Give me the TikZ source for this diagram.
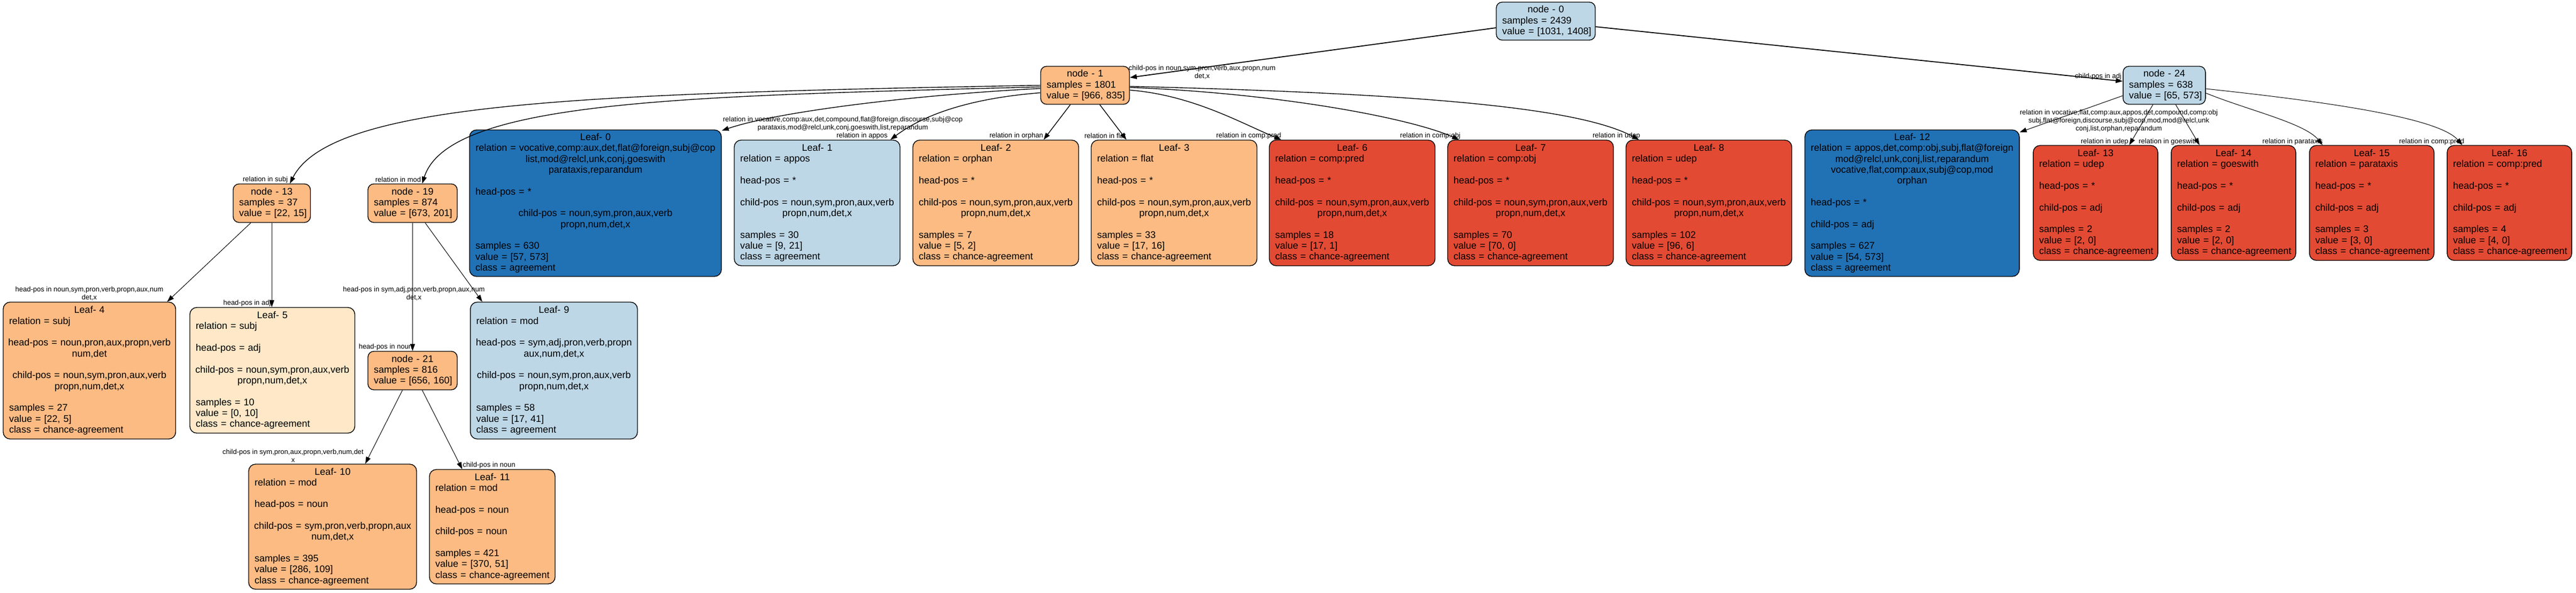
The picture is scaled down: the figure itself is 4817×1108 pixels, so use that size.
\documentclass[tikz,border=0pt]{standalone}
\usepackage{fontspec}
\setmainfont{Liberation Sans}
\usetikzlibrary{arrows.meta}
\definecolor{dblue}{HTML}{2171B5}
\definecolor{lblue}{HTML}{BDD7E7}
\definecolor{orng}{HTML}{FDBB84}
\definecolor{peach}{HTML}{FEE8C8}
\definecolor{redd}{HTML}{E34A33}
\newcommand\leftln[1]{\makebox[\linewidth][l]{#1}}
\newcommand\centln[1]{\makebox[\linewidth][c]{#1}}
\newcommand\nodefont{\fontsize{18pt}{20.33pt}\selectfont}
\newcommand\lblfont{\fontsize{13pt}{15pt}\selectfont}
\begin{document}
\begin{tikzpicture}[x=1pt,y=-1pt,
  box/.style={draw=black, line width=1.4pt, rounded corners=13pt, inner xsep=11pt, inner ysep=2pt, align=left, font=\nodefont},
  sbox/.style={box, rounded corners=11pt},
  lbl/.style={font=\lblfont, align=center, inner sep=0pt},
  conn/.style={draw=black, line width=1.4pt, -{Triangle[length=13pt,width=9pt]}},
  thick conn/.style={conn, line width=1.8pt},
  thin conn/.style={conn, line width=1.0pt}]
\fill[white] (0,0) rectangle (4817,1108);
\useasboundingbox (0,0) rectangle (4817,1108);

% ---- inner nodes ----
\node[sbox, fill=lblue, text width=163pt, minimum height=71pt] (n0) at (2890.5,39.5)
 {\centln{node - 0}\\\leftln{samples = 2439}\\\leftln{value = [1031, 1408]}};
\node[sbox, fill=orng, text width=144pt, minimum height=71pt] (n1) at (2029,159.5)
 {\centln{node - 1}\\\leftln{samples = 1801}\\\leftln{value = [966, 835]}};
\node[sbox, fill=lblue, text width=132pt, minimum height=71pt] (n24) at (4047,159.5)
 {\centln{node - 24}\\\leftln{samples = 638}\\\leftln{value = [65, 573]}};
\node[sbox, fill=orng, text width=122.5pt, minimum height=72pt] (n13) at (508.25,380)
 {\centln{node - 13}\\\leftln{samples = 37}\\\leftln{value = [22, 15]}};
\node[sbox, fill=orng, text width=145pt, minimum height=72pt] (n19) at (771.5,380)
 {\centln{node - 19}\\\leftln{samples = 874}\\\leftln{value = [673, 201]}};
\node[sbox, fill=orng, text width=145pt, minimum height=72pt] (n21) at (771.5,693)
 {\centln{node - 21}\\\leftln{samples = 816}\\\leftln{value = [656, 160]}};

% ---- leaves of node 1 ----
\node[box, fill=dblue, text width=449pt, minimum height=274pt] (L0) at (1113.5,380)
 {\centln{Leaf- 0}\\
  \centln{relation = vocative,comp:aux,det,flat@foreign,subj@cop}\\
  \centln{list,mod@relcl,unk,conj,goeswith}\\
  \centln{parataxis,reparandum}\\\centln{}\\
  \leftln{head-pos = *}\\\centln{}\\
  \centln{child-pos = noun,sym,pron,aux,verb}\\
  \centln{propn,num,det,x}\\\centln{}\\
  \leftln{samples = 630}\\\leftln{value = [57, 573]}\\\leftln{class = agreement}};
\node[box, fill=lblue, text width=288pt, minimum height=235pt] (L1) at (1528,379.5)
 {\centln{Leaf- 1}\\\leftln{relation = appos}\\\centln{}\\
  \leftln{head-pos = *}\\\centln{}\\
  \centln{child-pos = noun,sym,pron,aux,verb}\\\centln{propn,num,det,x}\\\centln{}\\
  \leftln{samples = 30}\\\leftln{value = [9, 21]}\\\leftln{class = agreement}};
\node[box, fill=orng, text width=288pt, minimum height=235pt] (L2) at (1862,379.5)
 {\centln{Leaf- 2}\\\leftln{relation = orphan}\\\centln{}\\
  \leftln{head-pos = *}\\\centln{}\\
  \centln{child-pos = noun,sym,pron,aux,verb}\\\centln{propn,num,det,x}\\\centln{}\\
  \leftln{samples = 7}\\\leftln{value = [5, 2]}\\\leftln{class = chance-agreement}};
\node[box, fill=orng, text width=288pt, minimum height=235pt] (L3) at (2195.5,379.5)
 {\centln{Leaf- 3}\\\leftln{relation = flat}\\\centln{}\\
  \leftln{head-pos = *}\\\centln{}\\
  \centln{child-pos = noun,sym,pron,aux,verb}\\\centln{propn,num,det,x}\\\centln{}\\
  \leftln{samples = 33}\\\leftln{value = [17, 16]}\\\leftln{class = chance-agreement}};
\node[box, fill=redd, text width=288pt, minimum height=235pt] (L6) at (2528.5,379.5)
 {\centln{Leaf- 6}\\\leftln{relation = comp:pred}\\\centln{}\\
  \leftln{head-pos = *}\\\centln{}\\
  \centln{child-pos = noun,sym,pron,aux,verb}\\\centln{propn,num,det,x}\\\centln{}\\
  \leftln{samples = 18}\\\leftln{value = [17, 1]}\\\leftln{class = chance-agreement}};
\node[box, fill=redd, text width=288pt, minimum height=235pt] (L7) at (2862,379.5)
 {\centln{Leaf- 7}\\\leftln{relation = comp:obj}\\\centln{}\\
  \leftln{head-pos = *}\\\centln{}\\
  \centln{child-pos = noun,sym,pron,aux,verb}\\\centln{propn,num,det,x}\\\centln{}\\
  \leftln{samples = 70}\\\leftln{value = [70, 0]}\\\leftln{class = chance-agreement}};
\node[box, fill=redd, text width=288pt, minimum height=235pt] (L8) at (3195.5,379.5)
 {\centln{Leaf- 8}\\\leftln{relation = udep}\\\centln{}\\
  \leftln{head-pos = *}\\\centln{}\\
  \centln{child-pos = noun,sym,pron,aux,verb}\\\centln{propn,num,det,x}\\\centln{}\\
  \leftln{samples = 102}\\\leftln{value = [96, 6]}\\\leftln{class = chance-agreement}};

% ---- leaves of node 24 ----
\node[box, fill=dblue, text width=379pt, minimum height=274pt] (L12) at (3575.5,380)
 {\centln{Leaf- 12}\\
  \centln{relation = appos,det,comp:obj,subj,flat@foreign}\\
  \centln{mod@relcl,unk,conj,list,reparandum}\\
  \centln{vocative,flat,comp:aux,subj@cop,mod}\\
  \centln{orphan}\\\centln{}\\
  \leftln{head-pos = *}\\\centln{}\\
  \leftln{child-pos = adj}\\\centln{}\\
  \leftln{samples = 627}\\\leftln{value = [54, 573]}\\\leftln{class = agreement}};
\node[box, fill=redd, text width=211pt, minimum height=215pt] (L13) at (3918.5,379.5)
 {\centln{Leaf- 13}\\\leftln{relation = udep}\\\centln{}\\
  \leftln{head-pos = *}\\\centln{}\\\leftln{child-pos = adj}\\\centln{}\\
  \leftln{samples = 2}\\\leftln{value = [2, 0]}\\\leftln{class = chance-agreement}};
\node[box, fill=redd, text width=211pt, minimum height=215pt] (L14) at (4176.5,379.5)
 {\centln{Leaf- 14}\\\leftln{relation = goeswith}\\\centln{}\\
  \leftln{head-pos = *}\\\centln{}\\\leftln{child-pos = adj}\\\centln{}\\
  \leftln{samples = 2}\\\leftln{value = [2, 0]}\\\leftln{class = chance-agreement}};
\node[box, fill=redd, text width=211pt, minimum height=215pt] (L15) at (4435,379.5)
 {\centln{Leaf- 15}\\\leftln{relation = parataxis}\\\centln{}\\
  \leftln{head-pos = *}\\\centln{}\\\leftln{child-pos = adj}\\\centln{}\\
  \leftln{samples = 3}\\\leftln{value = [3, 0]}\\\leftln{class = chance-agreement}};
\node[box, fill=redd, text width=211pt, minimum height=215pt] (L16) at (4692.5,379.5)
 {\centln{Leaf- 16}\\\leftln{relation = comp:pred}\\\centln{}\\
  \leftln{head-pos = *}\\\centln{}\\\leftln{child-pos = adj}\\\centln{}\\
  \leftln{samples = 4}\\\leftln{value = [4, 0]}\\\leftln{class = chance-agreement}};

% ---- lower leaves ----
\node[box, fill=orng, text width=300.5pt, minimum height=256pt] (L4) at (167.25,693)
 {\centln{Leaf- 4}\\\leftln{relation = subj}\\\centln{}\\
  \centln{head-pos = noun,pron,aux,propn,verb}\\\centln{num,det}\\\centln{}\\
  \centln{child-pos = noun,sym,pron,aux,verb}\\\centln{propn,num,det,x}\\\centln{}\\
  \leftln{samples = 27}\\\leftln{value = [22, 5]}\\\leftln{class = chance-agreement}};
\node[box, fill=peach, text width=286.5pt, minimum height=235pt] (L5) at (509.25,692.5)
 {\centln{Leaf- 5}\\\leftln{relation = subj}\\\centln{}\\
  \leftln{head-pos = adj}\\\centln{}\\
  \centln{child-pos = noun,sym,pron,aux,verb}\\\centln{propn,num,det,x}\\\centln{}\\
  \leftln{samples = 10}\\\leftln{value = [0, 10]}\\\leftln{class = chance-agreement}};
\node[box, fill=lblue, text width=290.4pt, minimum height=256pt] (L9) at (1035.8,693)
 {\centln{Leaf- 9}\\\leftln{relation = mod}\\\centln{}\\
  \centln{head-pos = sym,adj,pron,verb,propn}\\\centln{aux,num,det,x}\\\centln{}\\
  \centln{child-pos = noun,sym,pron,aux,verb}\\\centln{propn,num,det,x}\\\centln{}\\
  \leftln{samples = 58}\\\leftln{value = [17, 41]}\\\leftln{class = agreement}};
\node[box, fill=orng, text width=292pt, minimum height=234pt] (L10) at (622,985)
 {\centln{Leaf- 10}\\\leftln{relation = mod}\\\centln{}\\
  \leftln{head-pos = noun}\\\centln{}\\
  \centln{child-pos = sym,pron,verb,propn,aux}\\\centln{num,det,x}\\\centln{}\\
  \leftln{samples = 395}\\\leftln{value = [286, 109]}\\\leftln{class = chance-agreement}};
\node[box, fill=orng, text width=213pt, minimum height=214pt] (L11) at (920.5,985)
 {\centln{Leaf- 11}\\\leftln{relation = mod}\\\centln{}\\
  \leftln{head-pos = noun}\\\centln{}\\\leftln{child-pos = noun}\\\centln{}\\
  \leftln{samples = 421}\\\leftln{value = [370, 51]}\\\leftln{class = chance-agreement}};

% ---- connectors ----
\draw[thick conn] ([yshift=-12.5pt]n0.west) -- ([yshift=14.5pt]n1.east);
\draw[thick conn] ([yshift=-10.5pt]n0.east) -- ([yshift=7.5pt]n24.west);

\draw[conn] (n1.west) .. controls (1100,175) and (620,190) .. ([xshift=33.75pt]n13.north);
\draw[conn] ([yshift=-3pt]n1.west) .. controls (1300,180) and (840,185) .. ([xshift=18pt]n19.north);
\draw[conn] ([yshift=-6pt]n1.west) .. controls (1700,178) and (1450,210) .. ([yshift=-2pt]L0.north east);
\draw[conn] ([yshift=-14pt]n1.west) .. controls (1800,185) and (1720,220) .. ([xshift=137pt]L1.north);
\draw[conn] (n1) -- (L2);
\draw[conn] (n1) -- (L3);
\draw[conn] ([yshift=-9pt]n1.east) .. controls (2230,178) and (2320,230) .. ([xshift=23pt]L6.north west);
\draw[conn] ([yshift=-4pt]n1.east) .. controls (2400,175) and (2640,222) .. ([xshift=22pt]L7.north west);
\draw[conn] ([yshift=-2pt]n1.east) .. controls (2650,175) and (2950,200) .. ([xshift=25pt]L8.north west);

\draw[thin conn] ([yshift=-19.5pt]n24.west) -- ([yshift=-5pt]L12.north east);
\draw[thin conn] (n24) -- (L13);
\draw[thin conn] (n24) -- (L14);
\draw[thin conn] ([yshift=-14.5pt]n24.east) .. controls (4200,205) and (4310,230) .. ([xshift=-92pt]L15.north);
\draw[thin conn] ([yshift=-6.5pt]n24.east) .. controls (4350,190) and (4560,220) .. ([xshift=29pt]L16.north west);

\draw[thin conn] ([xshift=-39.25pt]n13.south) -- ([xshift=145.3pt]L4.north);
\draw[thin conn] (n13.south) -- (n13.south |- L5.north);
\draw[thin conn] (n19) -- (n21);
\draw[thin conn] ([xshift=23.5pt]n19.south) -- ([xshift=23pt]L9.north west);
\draw[thin conn] ([xshift=-19pt]n21.south) -- ([xshift=61pt]L10.north);
\draw[thin conn] ([xshift=18pt]n21.south) -- ([xshift=62pt]L11.north west);

% ---- connector labels ----
\node[lbl] (t01) at (2248,135) {child-pos in noun,sym,pron,verb,aux,propn,num\\det,x};
\node[lbl] (t024) at (3923.5,143) {child-pos in adj};
\node[lbl] (t113) at (496,336) {relation in subj};
\node[lbl] (t119) at (744.5,336) {relation in mod};
\node[lbl] (t1l0) at (1576,231.5) {relation in vocative,comp:aux,det,compound,flat@foreign,discourse,subj@cop\\parataxis,mod@relcl,unk,conj,goeswith,list,reparandum};
\node[lbl] (t1l1) at (1612,254) {relation in appos};
\node[lbl] (t1l2) at (1900.5,254) {relation in orphan};
\node[lbl] (t1l3) at (2066.5,254) {relation in flat};
\node[lbl] (t1l6) at (2335,254) {relation in comp:pred};
\node[lbl] (t1l7) at (2674.5,254) {relation in comp:obj};
\node[lbl] (t1l8) at (3022.5,254) {relation in udep};
\node[lbl] (t24l12) at (3962,226) {relation in vocative,flat,comp:aux,appos,det,compound,comp:obj\\subj,flat@foreign,discourse,subj@cop,mod,mod@relcl,unk\\conj,list,orphan,reparandum};
\node[lbl] (t24l13) at (3935.5,265) {relation in udep};
\node[lbl] (t24l14) at (4055,265) {relation in goeswith};
\node[lbl] (t24l15) at (4287,265) {relation in parataxis};
\node[lbl] (t24l16) at (4547,265) {relation in comp:pred};
\node[lbl] (t13l4) at (167,549.5) {head-pos in noun,sym,pron,verb,propn,aux,num\\det,x};
\node[lbl] (t13l5) at (462,567) {head-pos in adj};
\node[lbl] (t1921) at (721,649) {head-pos in noun};
\node[lbl] (t19l9) at (774,549.5) {head-pos in sym,adj,pron,verb,propn,aux,num\\det,x};
\node[lbl] (t21l10) at (548,852) {child-pos in sym,pron,aux,propn,verb,num,det\\x};
\node[lbl] (t21l11) at (914.5,870) {child-pos in noun};
\end{tikzpicture}
\end{document}
